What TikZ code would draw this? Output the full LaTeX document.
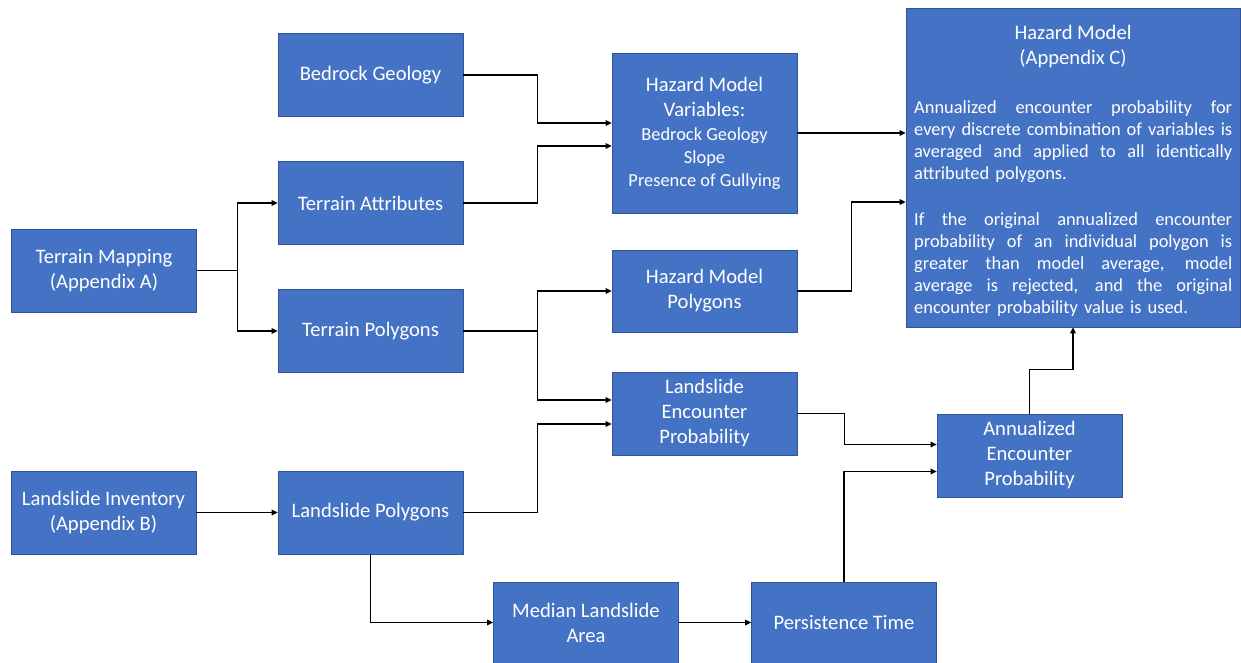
\documentclass[tikz,border=0pt]{standalone}
\usepackage{fontspec}
\setmainfont{Carlito}
\usetikzlibrary{arrows.meta,calc}
\definecolor{boxblue}{HTML}{4472C4}
\definecolor{boxedge}{HTML}{2F5597}
\newcommand{\jline}[1]{\leavevmode\hbox to 318pt{\spaceskip=0.2em plus 10em minus 0.1em\relax #1}}
\newcommand{\sm}{\fontsize{18.4}{22}\selectfont}
\begin{document}
\begin{tikzpicture}[x=1pt,y=-1pt,
 box/.style={draw=boxedge,line width=0.6pt,fill=boxblue,text=white,inner sep=0pt,align=center,
   minimum width=185pt,minimum height=83pt,font=\fontsize{20.6}{25}\selectfont},
 arr/.style={line width=1.3pt,-{Triangle[length=6pt,width=5.5pt]}},
 ptext/.style={text=white,inner sep=0pt,font=\sm,text width=318pt,align=left,anchor=north west},
 ttext/.style={text=white,inner sep=0pt,align=center,font=\fontsize{20.6}{25}\selectfont}]
\fill[white] (0,0) rectangle (1241,663);
\useasboundingbox (0,0) rectangle (1241,663);

\node[box] (tm) at (104,270.5) {Terrain Mapping\\(Appendix A)};
\node[box] (li) at (103.5,512.5) {Landslide Inventory\\(Appendix B)};
\node[box] (bg) at (370.5,75) {Bedrock Geology};
\node[box] (ta) at (370.5,203) {Terrain Attributes};
\node[box] (tp) at (370.5,331) {Terrain Polygons};
\node[box] (lp) at (370.5,512.5) {Landslide Polygons};
\node[box,minimum height=160pt] (hmv) at (704.5,133) {Hazard Model\\Variables:\\[-1pt]{\sm Bedrock Geology}\\[-2pt]{\sm Slope}\\[-2pt]{\sm Presence of Gullying}};
\node[box,minimum height=82pt] (hmp) at (704.5,291) {Hazard Model\\Polygons};
\node[box] (lep) at (704.5,413.5) {Landslide\\Encounter\\Probability};
\node[box,minimum width=334pt,minimum height=319pt] (hm) at (1073,167.5) {};
\node[box] (aep) at (1029.5,455.5) {Annualized\\Encounter\\Probability};
\node[box,minimum height=81pt] (mla) at (586,622.5) {Median Landslide\\Area};
\node[box,minimum height=81pt] (pt) at (844,622.5) {Persistence Time};

\node[ttext] (hmt) at (1073,46.5) {Hazard Model\\(Appendix C)};
\node[ptext] (hmpa) at (914,101) {\jline{Annualized encounter probability for}\\
\jline{every discrete combination of variables is}\\
\jline{averaged and applied to all identically}\\
attributed polygons.};
\node[ptext] (hmpb) at (914,212.5) {\jline{If the original annualized encounter}\\
\jline{probability of an individual polygon is}\\
\jline{greater than model average, model}\\
\jline{average is rejected, and the original}\\
encounter probability value is used.};

\draw[arr] (tm.east) -- ++(41,0) |- (ta.west);
\draw[arr] (tm.east) -- ++(41,0) |- (tp.west);
\draw[arr] (bg.east) -- ++(74,0) |- ([yshift=10pt]hmv.west);
\draw[arr] (ta.east) -- ++(74,0) |- ([yshift=-13pt]hmv.west);
\draw[arr] (tp.east) -- ++(74,0) |- (hmp.west);
\draw[arr] (tp.east) -- ++(74,0) |- ([yshift=13.5pt]lep.west);
\draw[arr] (lp.east) -- ++(74,0) |- ([yshift=-10.5pt]lep.west);
\draw[arr] (li.east) -- (lp.west);
\draw[arr] (lp.south) |- (mla.west);
\draw[arr] (mla.east) -- (pt.west);
\draw[arr] (pt.north) |- ([yshift=-16pt]aep.west);
\draw[arr] (lep.east) -- ++(47,0) |- ([yshift=11pt]aep.west);
\draw[arr] (aep.north) -- ++(0,-44) -| (hm.south);
\draw[arr] (hmv.east) -- (hmv.east -| hm.west);
\draw[arr] (hmp.east) -- ++(54,0) |- ([yshift=-34.5pt]hm.west);
\end{tikzpicture}
\end{document}
